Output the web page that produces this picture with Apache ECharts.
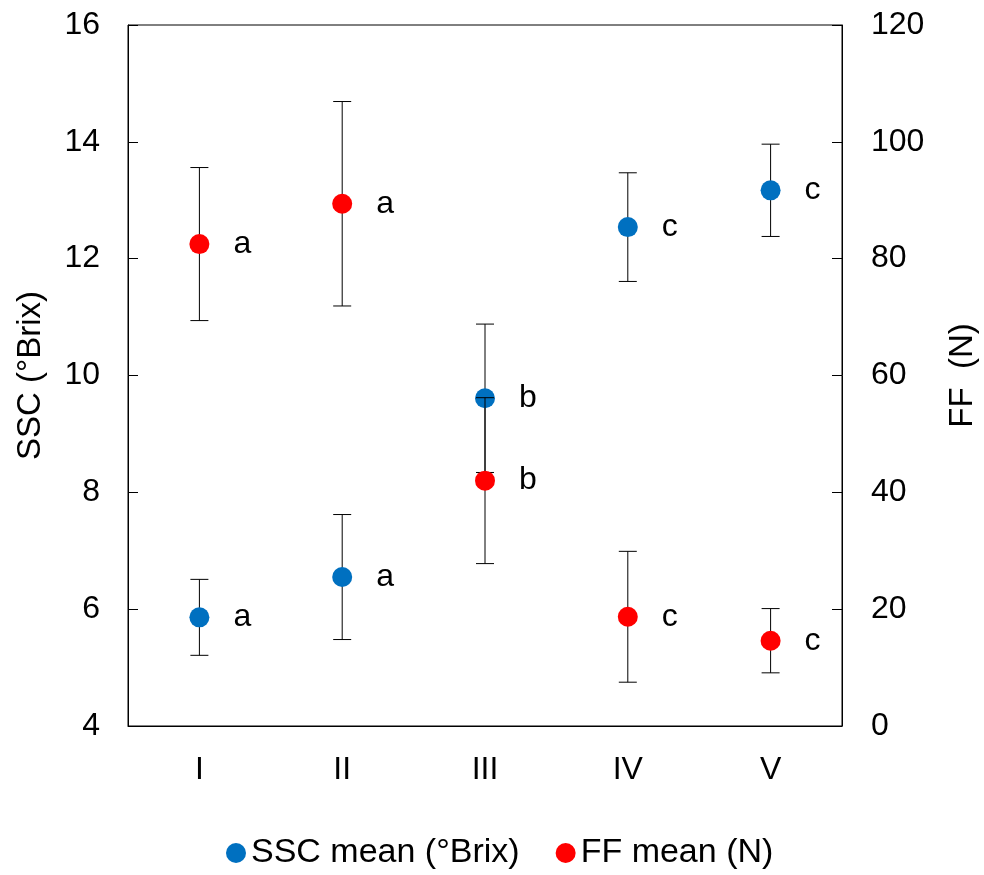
<!DOCTYPE html>
<html>
<head>
<meta charset="utf-8">
<script src="https://cdn.jsdelivr.net/npm/echarts@6/dist/echarts.min.js"></script>
<style>
  html, body { margin: 0; padding: 0; background: #fff; }
  #main { width: 984px; height: 875px; }
</style>
</head>
<body>
<div id="main"></div>
<script>
  var categories = ['I', 'II', 'III', 'IV', 'V'];
  // SSC (°Brix), left axis
  var sscMean = [5.86, 6.55, 9.61, 12.54, 13.17];
  var sscErr = [0.65, 1.07, 1.27, 0.93, 0.79];
  var sscLetters = ['a', 'a', 'b', 'c', 'c'];
  // FF (N), right axis
  var ffMean = [82.5, 89.4, 42.0, 18.7, 14.6];
  var ffErr = [13.1, 17.5, 14.2, 11.2, 5.5];
  var ffLetters = ['a', 'a', 'b', 'c', 'c'];

  var font = 'Liberation Sans, Arial, sans-serif';

  var dom = document.getElementById('main');
  var myChart = echarts.init(dom, null, { renderer: 'canvas' });

  function errData(mean, err) {
    return mean.map(function (m, i) { return [i, m, err[i]]; });
  }

  var errorBar = function (params, api) {
    var x = api.value(0), m = api.value(1), e = api.value(2);
    var top = api.coord([x, m + e]);
    var bot = api.coord([x, m - e]);
    var w = 9;
    var st = { stroke: '#000', lineWidth: 1 };
    return {
      type: 'group',
      children: [
        { type: 'line', shape: { x1: top[0], y1: top[1], x2: bot[0], y2: bot[1] }, style: st },
        { type: 'line', shape: { x1: top[0] - w, y1: top[1], x2: top[0] + w, y2: top[1] }, style: st },
        { type: 'line', shape: { x1: bot[0] - w, y1: bot[1], x2: bot[0] + w, y2: bot[1] }, style: st }
      ]
    };
  };

  var letterLabel = function (letters) {
    return {
      show: true,
      position: 'right',
      distance: 24,
      color: '#000',
      fontSize: 32,
      fontFamily: font,
      formatter: function (p) { return letters[p.dataIndex]; }
    };
  };

  var option = {
    animation: false,
    grid: {
      left: 128,
      right: 142,
      top: 25,
      bottom: 149,
      outerBoundsMode: 'none',
      containLabel: false,
      show: true,
      borderColor: '#000',
      borderWidth: 1
    },
    legend: {
      top: 831,
      left: 221,
      icon: 'circle',
      itemWidth: 20,
      itemHeight: 20,
      itemGap: 36,
      itemTextGap: 4,
      textStyle: { fontSize: 34, fontFamily: font, color: '#000' },
      data: ['SSC mean (°Brix)', 'FF mean (N)']
    },
    xAxis: {
      type: 'category',
      data: categories,
      axisLine: { lineStyle: { color: '#000' } },
      axisTick: { show: false },
      axisLabel: { margin: 28, fontSize: 32, fontFamily: font, color: '#000' }
    },
    yAxis: [
      {
        type: 'value',
        min: 4,
        max: 16,
        interval: 2,
        name: 'SSC (°Brix)',
        nameLocation: 'middle',
        nameGap: 81,
        nameTextStyle: { fontSize: 33, fontFamily: font, color: '#000' },
        axisLine: { show: true, lineStyle: { color: '#000' } },
        axisTick: { show: true, inside: true, length: 10, lineStyle: { color: '#000' } },
        axisLabel: { margin: 28, fontSize: 32, fontFamily: font, color: '#000' },
        splitLine: { show: false }
      },
      {
        type: 'value',
        min: 0,
        max: 120,
        interval: 20,
        name: 'FF  (N)',
        nameLocation: 'middle',
        nameGap: 104,
        nameTextStyle: { fontSize: 33, fontFamily: font, color: '#000' },
        axisLine: { show: true, lineStyle: { color: '#000' } },
        axisTick: { show: true, inside: true, length: 10, lineStyle: { color: '#000' } },
        axisLabel: { margin: 29, fontSize: 32, fontFamily: font, color: '#000' },
        splitLine: { show: false }
      }
    ],
    series: [
      {
        name: 'SSC err',
        type: 'custom',
        yAxisIndex: 0,
        renderItem: errorBar,
        encode: { x: 0, y: 1 },
        data: errData(sscMean, sscErr),
        z: 2
      },
      {
        name: 'SSC mean (°Brix)',
        type: 'scatter',
        yAxisIndex: 0,
        symbolSize: 20,
        itemStyle: { color: '#0070C0', opacity: 1 },
        label: letterLabel(sscLetters),
        data: sscMean,
        z: 3
      },
      {
        name: 'FF err',
        type: 'custom',
        yAxisIndex: 1,
        renderItem: errorBar,
        encode: { x: 0, y: 1 },
        data: errData(ffMean, ffErr),
        z: 4
      },
      {
        name: 'FF mean (N)',
        type: 'scatter',
        yAxisIndex: 1,
        symbolSize: 20,
        itemStyle: { color: '#FF0000', opacity: 1 },
        label: letterLabel(ffLetters),
        data: ffMean,
        z: 5
      }
    ]
  };

  myChart.setOption(option);
</script>
</body>
</html>
